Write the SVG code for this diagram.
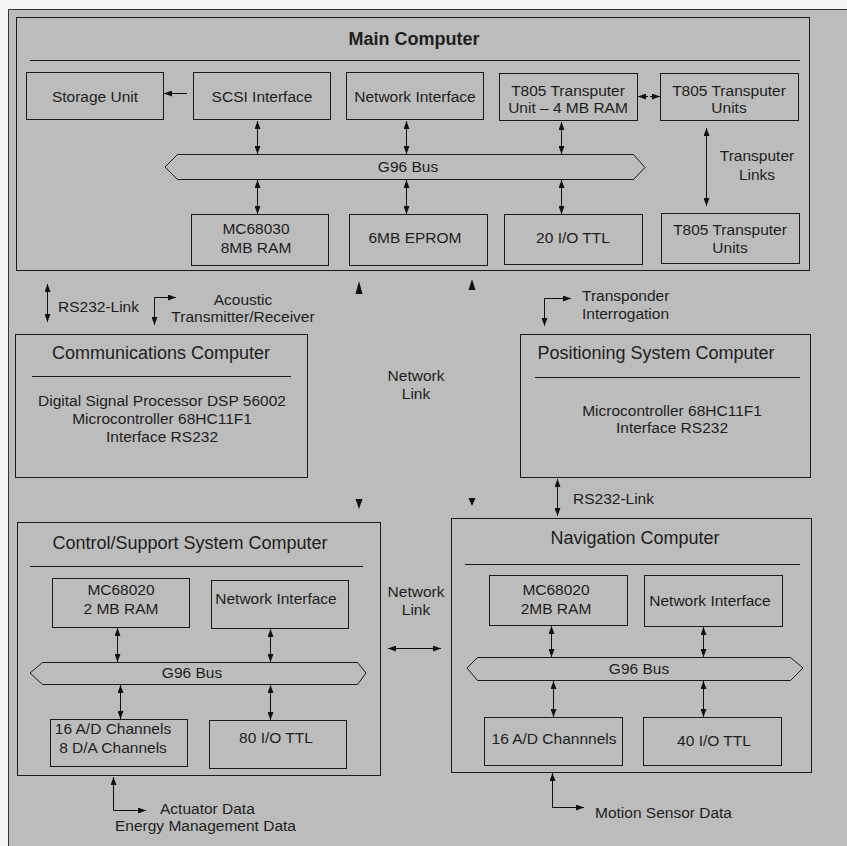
<svg xmlns="http://www.w3.org/2000/svg" width="847" height="846" viewBox="0 0 847 846">
  <style>
    .box { fill: none; stroke: #1a1a1a; stroke-width: 1; }
    .sep { stroke: #1a1a1a; stroke-width: 1; }
    .bus { fill: none; stroke: #1a1a1a; stroke-width: 1; }
    .lbl { font-family: "Liberation Sans", Arial, sans-serif; font-size: 15.5px; fill: #1e1e1e; text-anchor: middle; }
    .ttl { font-family: "Liberation Sans", Arial, sans-serif; font-size: 18px; fill: #1e1e1e; text-anchor: middle; }
    .main { font-weight: bold; }
    .left { text-anchor: start; }
    .cn { fill: none; stroke: #111; stroke-width: 1; }
    .dbl { marker-start: url(#ah); marker-end: url(#ah); }
    .end { marker-end: url(#ah); }
    .dash { stroke-dasharray: 2 2; }
    .head { fill: #111; }
  </style>
  <defs>
    <marker id="ah" viewBox="0 0 8 6" refX="8" refY="3" markerWidth="8" markerHeight="6" markerUnits="userSpaceOnUse" orient="auto-start-reverse">
      <path d="M0,0 L8,3 L0,6 z" fill="#111"/>
    </marker>
  </defs>

  <!-- paper and halftone-toned frame -->
  <rect x="0" y="0" width="847" height="846" fill="#f4f4f4"/>
  <rect x="8" y="9" width="839" height="837" fill="#bcbcbc"/>
  <path d="M8.5,846 V9.5 H847" fill="none" stroke="#333" stroke-width="1"/>

  <!-- Main Computer -->
  <g id="main-computer">
    <rect class="box" x="16.5" y="17.5" width="793" height="253"/>
    <text class="ttl main" x="414" y="45">Main Computer</text>
    <line class="sep" x1="30" y1="60.5" x2="800" y2="60.5"/>
  </g>
  <g id="storage-unit">
    <rect class="box" x="26.5" y="72.5" width="137" height="47"/>
    <text class="lbl" x="95" y="102">Storage Unit</text>
  </g>
  <g id="scsi-interface">
    <rect class="box" x="193.5" y="72.5" width="137" height="47"/>
    <text class="lbl" x="262" y="102">SCSI Interface</text>
  </g>
  <g id="main-network-interface">
    <rect class="box" x="346.5" y="72.5" width="137" height="47"/>
    <text class="lbl" x="415" y="102">Network Interface</text>
  </g>
  <g id="t805-unit">
    <rect class="box" x="499.5" y="73.5" width="138" height="47"/>
    <text class="lbl" x="568" y="95.5">T805 Transputer</text>
    <text class="lbl" x="568" y="113">Unit – 4 MB RAM</text>
  </g>
  <g id="t805-units-top">
    <rect class="box" x="660.5" y="73.5" width="138" height="47"/>
    <text class="lbl" x="729" y="95.5">T805 Transputer</text>
    <text class="lbl" x="729" y="113">Units</text>
  </g>
  <g id="main-bus">
    <polygon class="bus" points="165,167 177.5,154.5 633.5,154.5 645,167.5 633.5,179.5 177.5,179.5"/>
    <text class="lbl" x="408" y="172">G96 Bus</text>
  </g>
  <g id="mc68030">
    <rect class="box" x="191.5" y="214.5" width="137" height="51"/>
    <text class="lbl" x="256" y="233.5">MC68030</text>
    <text class="lbl" x="256" y="252.5">8MB RAM</text>
  </g>
  <g id="eprom">
    <rect class="box" x="349.5" y="214.5" width="138" height="51"/>
    <text class="lbl" x="415" y="243">6MB EPROM</text>
  </g>
  <g id="io-20">
    <rect class="box" x="504.5" y="214.5" width="138" height="50"/>
    <text class="lbl" x="573" y="243">20 I/O TTL</text>
  </g>
  <g id="t805-units-bottom">
    <rect class="box" x="661.5" y="213.5" width="138" height="50"/>
    <text class="lbl" x="730" y="234.5">T805 Transputer</text>
    <text class="lbl" x="730" y="252.5">Units</text>
  </g>
  <g id="transputer-links-label">
    <text class="lbl" x="757" y="160.5">Transputer</text>
    <text class="lbl" x="757" y="179.5">Links</text>
  </g>

  <!-- Communications Computer -->
  <g id="communications-computer">
    <rect class="box" x="15.5" y="334.5" width="292" height="143"/>
    <text class="ttl" x="161" y="358.5">Communications Computer</text>
    <line class="sep" x1="32" y1="376.5" x2="291" y2="376.5"/>
    <text class="lbl" x="162" y="405.5">Digital Signal Processor DSP 56002</text>
    <text class="lbl" x="162" y="423.5">Microcontroller 68HC11F1</text>
    <text class="lbl" x="162" y="441.5">Interface RS232</text>
  </g>
  <g id="rs232-left-label">
    <text class="lbl left" x="58" y="312">RS232-Link</text>
  </g>
  <g id="acoustic-label">
    <text class="lbl" x="243" y="304.5">Acoustic</text>
    <text class="lbl" x="243" y="322">Transmitter/Receiver</text>
  </g>
  <g id="network-link-upper">
    <text class="lbl" x="416" y="380.5">Network</text>
    <text class="lbl" x="416" y="398.5">Link</text>
  </g>

  <!-- Positioning System Computer -->
  <g id="positioning-computer">
    <rect class="box" x="520.5" y="334.5" width="290" height="143"/>
    <text class="ttl" x="656" y="358.5">Positioning System Computer</text>
    <line class="sep" x1="535" y1="377.5" x2="800" y2="377.5"/>
    <text class="lbl" x="672" y="415.5">Microcontroller 68HC11F1</text>
    <text class="lbl" x="672" y="432.5">Interface RS232</text>
  </g>
  <g id="transponder-label">
    <text class="lbl left" x="582" y="300.5">Transponder</text>
    <text class="lbl left" x="582" y="318.5">Interrogation</text>
  </g>
  <g id="rs232-right-label">
    <text class="lbl left" x="573" y="503.5">RS232-Link</text>
  </g>

  <!-- Control/Support System Computer -->
  <g id="control-support-computer">
    <rect class="box" x="17.5" y="522.5" width="363" height="253"/>
    <text class="ttl" x="190" y="548.5">Control/Support System Computer</text>
    <line class="sep" x1="30" y1="566.5" x2="363" y2="566.5"/>
  </g>
  <g id="css-mc68020">
    <rect class="box" x="52.5" y="578.5" width="137" height="49"/>
    <text class="lbl" x="121" y="594.5">MC68020</text>
    <text class="lbl" x="121" y="613.5">2 MB RAM</text>
  </g>
  <g id="css-network-interface">
    <rect class="box" x="211.5" y="580.5" width="137" height="48"/>
    <text class="lbl" x="276" y="603.5">Network Interface</text>
  </g>
  <g id="css-bus">
    <polygon class="bus" points="30,673 42.5,662.5 357.5,662.5 366,673 357.5,684.5 42.5,684.5"/>
    <text class="lbl" x="192" y="677.5">G96 Bus</text>
  </g>
  <g id="css-adda">
    <rect class="box" x="50.5" y="719.5" width="137" height="47"/>
    <text class="lbl" x="113" y="733.5">16 A/D Channels</text>
    <text class="lbl" x="113" y="752.5">8 D/A Channels</text>
  </g>
  <g id="io-80">
    <rect class="box" x="209.5" y="720.5" width="137" height="48"/>
    <text class="lbl" x="276" y="742.5">80 I/O TTL</text>
  </g>
  <g id="actuator-label">
    <text class="lbl left" x="160" y="813.5">Actuator Data</text>
    <text class="lbl left" x="115" y="830.5">Energy Management Data</text>
  </g>
  <g id="network-link-lower">
    <text class="lbl" x="416" y="596.5">Network</text>
    <text class="lbl" x="416" y="614.5">Link</text>
  </g>

  <!-- Navigation Computer -->
  <g id="navigation-computer">
    <rect class="box" x="451.5" y="518.5" width="360" height="254"/>
    <text class="ttl" x="635" y="543.5">Navigation Computer</text>
    <line class="sep" x1="465" y1="564.5" x2="800" y2="564.5"/>
  </g>
  <g id="nav-mc68020">
    <rect class="box" x="489.5" y="575.5" width="138" height="50"/>
    <text class="lbl" x="556" y="594.5">MC68020</text>
    <text class="lbl" x="556" y="613.5">2MB RAM</text>
  </g>
  <g id="nav-network-interface">
    <rect class="box" x="644.5" y="575.5" width="138" height="51"/>
    <text class="lbl" x="710" y="605.5">Network Interface</text>
  </g>
  <g id="nav-bus">
    <polygon class="bus" points="467,668 477.5,657.5 790.5,657.5 803,668 790.5,680.5 477.5,680.5"/>
    <text class="lbl" x="639" y="673.5">G96 Bus</text>
  </g>
  <g id="nav-ad">
    <rect class="box" x="484.5" y="717.5" width="138" height="48"/>
    <text class="lbl" x="554" y="743.5">16 A/D Channnels</text>
  </g>
  <g id="io-40">
    <rect class="box" x="643.5" y="717.5" width="138" height="48"/>
    <text class="lbl" x="714" y="745.5">40 I/O TTL</text>
  </g>
  <g id="motion-label">
    <text class="lbl left" x="595" y="817.5">Motion Sensor Data</text>
  </g>

  <!-- connectors -->
  <g id="connectors">
    <!-- main computer -->
    <line class="cn end" x1="187" y1="93.5" x2="164" y2="93.5"/>
    <line class="cn dbl dash" x1="638" y1="96.5" x2="660" y2="96.5"/>
    <line class="cn dbl" x1="257.5" y1="121" x2="257.5" y2="154"/>
    <line class="cn dbl" x1="406.5" y1="121" x2="406.5" y2="154"/>
    <line class="cn dbl" x1="561.5" y1="122" x2="561.5" y2="154"/>
    <line class="cn dbl" x1="257.5" y1="180" x2="257.5" y2="214"/>
    <line class="cn dbl" x1="406.5" y1="180" x2="406.5" y2="214"/>
    <line class="cn dbl" x1="561.5" y1="180" x2="561.5" y2="214"/>
    <line class="cn dbl" x1="706.5" y1="128" x2="706.5" y2="206"/>

    <!-- links below main computer -->
    <line class="cn dbl" x1="47.5" y1="284" x2="47.5" y2="322"/>
    <path class="cn dbl" d="M176,297.5 H154.5 V325"/>
    <path class="cn dbl" d="M571,298.5 H544.5 V326"/>
    <polygon class="head" points="359,281 355.5,294 362.5,294"/>
    <polygon class="head" points="472,279 468.5,290 475.5,290"/>
    <polygon class="head" points="359,509 355.5,499 362.5,499"/>
    <polygon class="head" points="472,506 468.5,498 475.5,498"/>
    <line class="cn dbl" x1="557.5" y1="479" x2="557.5" y2="516"/>

    <!-- control/support computer -->
    <line class="cn dbl" x1="117.5" y1="628" x2="117.5" y2="662"/>
    <line class="cn dbl" x1="270.5" y1="629" x2="270.5" y2="662"/>
    <line class="cn dbl" x1="120.5" y1="685" x2="120.5" y2="719"/>
    <line class="cn dbl" x1="270.5" y1="685" x2="270.5" y2="720"/>
    <path class="cn dbl" d="M113.5,777 V810.5 H146"/>
    <line class="cn dbl" x1="388" y1="648.5" x2="441" y2="648.5"/>

    <!-- navigation computer -->
    <line class="cn dbl" x1="551.5" y1="626" x2="551.5" y2="657"/>
    <line class="cn dbl" x1="703.5" y1="627" x2="703.5" y2="657"/>
    <line class="cn dbl" x1="553.5" y1="681" x2="553.5" y2="717"/>
    <line class="cn dbl" x1="703.5" y1="681" x2="703.5" y2="717"/>
    <path class="cn dbl" d="M552.5,773 V807.5 H584"/>
  </g>
</svg>
